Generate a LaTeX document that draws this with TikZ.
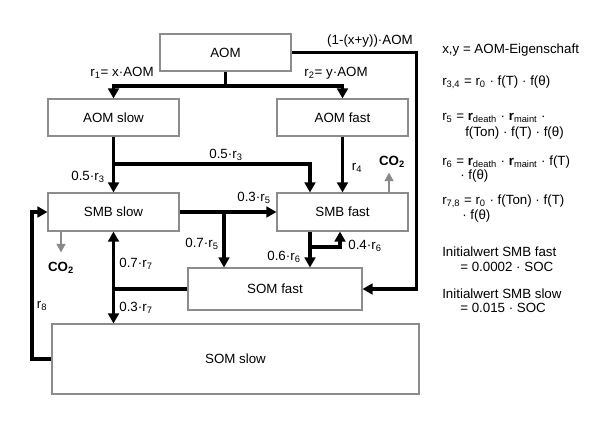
\documentclass[tikz,border=0pt]{standalone}
\usepackage{fontspec}
\setmainfont{Liberation Sans}
\usepackage{tikz}
\usetikzlibrary{arrows.meta,positioning,calc}
\definecolor{frame}{HTML}{8c8c8c}
\definecolor{co2gray}{HTML}{8a8a8a}

\begin{document}
\begin{tikzpicture}[x=0.75pt,y=-0.75pt,
   font=\fontsize{10}{12}\selectfont,
   pool/.style={draw=frame,line width=0.8pt,fill=white,inner sep=0pt},
   flow/.style={-{Triangle[length=7.5pt,width=8pt]},line width=2.5pt,black},
   link/.style={line width=2.5pt,black},
   vent/.style={-{Triangle[length=6.5pt,width=6.5pt]},line width=2pt,co2gray},
   lab/.style={inner sep=1pt},
   note/.style={anchor=west,inner sep=0pt}]
  \useasboundingbox (0,0) rectangle (600,426);
  % pools
  \node[pool,minimum width=98.25pt,minimum height=27.75pt] (aom) at (225.5,52.5) {AOM};
  \node[pool,minimum width=98.25pt,minimum height=27.75pt] (aomslow) at (113.5,117.5) {AOM slow};
  \node[pool,minimum width=98.25pt,minimum height=27.75pt] (aomfast) at (342.5,117.5) {AOM fast};
  \node[pool,minimum width=98.25pt,minimum height=28.5pt] (smbslow) at (113.5,212) {SMB slow};
  \node[pool,minimum width=98.25pt,minimum height=28.5pt] (smbfast) at (342.5,212) {SMB fast};
  \node[pool,minimum width=130.5pt,minimum height=31.5pt] (somfast) at (275,289) {SOM fast};
  \node[pool,minimum width=275.25pt,minimum height=52.5pt] (somslow) at (235.5,359) {SOM slow};
  % branch points
  \coordinate (ja) at (225.5,86);
  \coordinate (jr) at (416.5,289);
  \coordinate (jb) at (113.5,164);
  \coordinate (jc) at (224,212);
  \coordinate (jd) at (310,247);
  \coordinate (je) at (113.5,289);
  \coordinate (jf) at (32,359);
  % fluxes
  \draw[link] (aom.south) -- (ja);
  \draw[flow] (ja) -| (aomslow.north);
  \draw[flow] (ja) -| (aomfast.north);
  \draw[flow] (aom.east) -| (jr) -- (somfast.east);
  \draw[flow] (aomslow.south) -- (smbslow.north);
  \draw[flow] (jb) -| ($(smbfast.north)+(-32.5,0)$);
  \draw[flow] (aomfast.south) -- (smbfast.north);
  \draw[flow] (smbslow.east) -- (smbfast.west);
  \draw[flow] (jc) -- (jc |- somfast.north);
  \draw[flow] ($(smbfast.south)+(-32.5,0)$) -- (jd |- somfast.north);
  \draw[flow] (jd) -| ($(smbfast.south)+(-2.5,0)$);
  \draw[link] (somfast.west) -- (je);
  \draw[flow] (je) -- (smbslow.south);
  \draw[flow] (je) -- (je |- somslow.north);
  \draw[flow] (somslow.west) -- (jf) |- (smbslow.west);
  % CO2 losses
  \node[lab,font=\fontsize{10}{12}\selectfont\bfseries] (co2a) at (61,268) {CO\textsubscript{2}};
  \node[lab,font=\fontsize{10}{12}\selectfont\bfseries] (co2b) at (392,162) {CO\textsubscript{2}};
  \draw[vent] (smbslow.south -| co2a) -- ++(0,21);
  \draw[vent] ($(smbfast.north)+(46.5,0)$) -- ++(0,-20);
  % rates
  \node[lab] (r1) at (122,73) {r\textsubscript{1}= x·AOM};
  \node[lab] (r2) at (336,73) {r\textsubscript{2}= y·AOM};
  \node[lab] (r0) at (370,41) {(1-(x+y))·AOM};
  \node[lab] (r3a) at (226,155) {0.5·r\textsubscript{3}};
  \node[lab] (r3b) at (88,177) {0.5·r\textsubscript{3}};
  \node[lab] (r4) at (357,168) {r\textsubscript{4}};
  \node[lab] (r5a) at (254,198) {0.3·r\textsubscript{5}};
  \node[lab] (r5b) at (202,244) {0.7·r\textsubscript{5}};
  \node[lab] (r6a) at (365,246) {0.4·r\textsubscript{6}};
  \node[lab] (r6b) at (284,257) {0.6·r\textsubscript{6}};
  \node[lab] (r7a) at (136,264) {0.7·r\textsubscript{7}};
  \node[lab] (r7b) at (136,308) {0.3·r\textsubscript{7}};
  \node[lab] (r8) at (42,306) {r\textsubscript{8}};
  % legend
  \node[note] (n1) at (442,50) {x,y = AOM-Eigenschaft};
  \node[note] (n2) at (442,82) {r\textsubscript{3,4} = r\textsubscript{0} · f(T) · f(θ)};
  \node[note] (n3) at (442,118) {r\textsubscript{5} = \textbf{r}\textsubscript{death} · \textbf{r}\textsubscript{maint} ·};
  \node[note] (n3b) at (465,133) {f(Ton) · f(T) · f(θ)};
  \node[note] (n4) at (442,162) {r\textsubscript{6} = \textbf{r}\textsubscript{death} · \textbf{r}\textsubscript{maint} · f(T)};
  \node[note] (n4b) at (460,176) {· f(θ)};
  \node[note] (n5) at (442,201) {r\textsubscript{7,8} = r\textsubscript{0} · f(Ton) · f(T)};
  \node[note] (n5b) at (462,216) {· f(θ)};
  \node[note] (n6) at (442,252) {Initialwert SMB fast};
  \node[note] (n6b) at (460,267) {= 0.0002 · SOC};
  \node[note] (n7) at (442,294) {Initialwert SMB slow};
  \node[note] (n7b) at (460,308) {= 0.015 · SOC};
\end{tikzpicture}
\end{document}
